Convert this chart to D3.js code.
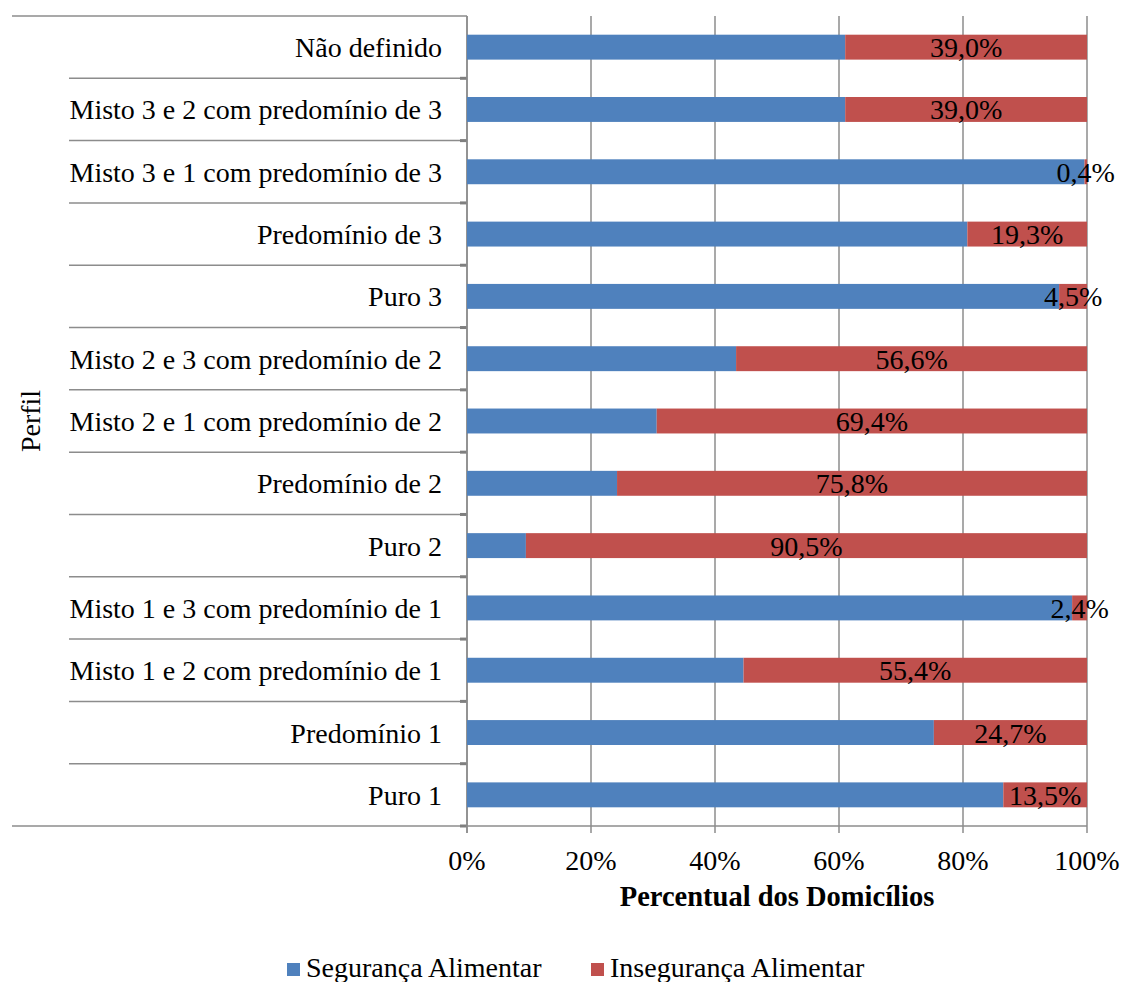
<!DOCTYPE html>
<html>
<head>
<meta charset="utf-8">
<script src="https://cdn.jsdelivr.net/npm/d3@7"></script>
<style>
  html, body { margin: 0; padding: 0; background: #fff; }
  svg { display: block; }
  text { font-family: "Liberation Serif", "DejaVu Serif", serif; fill: #000; }
</style>
</head>
<body>
<svg id="chart" width="1124" height="982"></svg>
<script>
// Profiles, top to bottom
const categories = [
  "Não definido",
  "Misto 3 e 2 com predomínio de 3",
  "Misto 3 e 1 com predomínio de 3",
  "Predomínio de 3",
  "Puro 3",
  "Misto 2 e 3 com predomínio de 2",
  "Misto 2 e 1 com predomínio de 2",
  "Predomínio de 2",
  "Puro 2",
  "Misto 1 e 3 com predomínio de 1",
  "Misto 1 e 2 com predomínio de 1",
  "Predomínio 1",
  "Puro 1"
];
// Share of households with food insecurity (%)
const inseguranca = [39.0, 39.0, 0.4, 19.3, 4.5, 56.6, 69.4, 75.8, 90.5, 2.4, 55.4, 24.7, 13.5];
// Share of households with food security (%)
const seguranca = [61.0, 61.0, 99.6, 80.7, 95.5, 43.4, 30.6, 24.2, 9.5, 97.6, 44.6, 75.3, 86.5];
const seriesNames = ["Segurança Alimentar", "Insegurança Alimentar"];
const tickValues = [0, 20, 40, 60, 80, 100];

const colors = ["#4F81BD", "#C0504D"];
const gridColor = "#8c8c8c";
const fontSize = "28px";

const svg = d3.select("#chart");
const plot = { left: 467, right: 1087, top: 16, bottom: 826 };

const x = d3.scaleLinear().domain([0, 100]).range([plot.left, plot.right]);
const y = d3.scaleBand().domain(categories).range([plot.top, plot.bottom])
  .paddingInner(0.6).paddingOuter(0.3);

const rows = categories.map((c, i) => ({ cat: c, seg: seguranca[i], ins: inseguranca[i] }));

// vertical gridlines with small ticks below the axis
svg.append("g").selectAll("line").data(tickValues).join("line")
  .attr("x1", d => x(d)).attr("x2", d => x(d))
  .attr("y1", plot.top).attr("y2", plot.bottom + 7)
  .attr("stroke", gridColor).attr("stroke-width", 1.5);

// category separators on the left
const step = y.step();
const seps = d3.range(categories.length + 1).map(i => plot.top + i * step);
svg.append("g").selectAll("line").data(seps).join("line")
  .attr("x1", (d, i) => (i === 0 || i === categories.length) ? 12 : 69)
  .attr("x2", (d, i) => i === categories.length ? plot.right : plot.left)
  .attr("y1", d => d).attr("y2", d => d)
  .attr("stroke", gridColor).attr("stroke-width", 1.5);
svg.append("g").selectAll("line").data(seps.slice(1)).join("line")
  .attr("x1", plot.left - 7).attr("x2", plot.left)
  .attr("y1", d => d).attr("y2", d => d)
  .attr("stroke", "#7f7f7f").attr("stroke-width", 3);

// vertical axis line
svg.append("line")
  .attr("x1", plot.left).attr("x2", plot.left)
  .attr("y1", plot.top).attr("y2", plot.bottom + 7)
  .attr("stroke", gridColor).attr("stroke-width", 1.5);

// stacked bars
const bars = svg.append("g");
bars.selectAll("rect.seg").data(rows).join("rect")
  .attr("class", "seg")
  .attr("x", x(0)).attr("y", d => y(d.cat))
  .attr("width", d => x(d.seg) - x(0)).attr("height", y.bandwidth())
  .attr("fill", colors[0]);
bars.selectAll("rect.ins").data(rows).join("rect")
  .attr("class", "ins")
  .attr("x", d => x(d.seg)).attr("y", d => y(d.cat))
  .attr("width", d => x(d.seg + d.ins) - x(d.seg)).attr("height", y.bandwidth())
  .attr("fill", colors[1]);

// value labels on the insecurity segment
const fmt = v => v.toFixed(1).replace(".", ",") + "%";
svg.append("g").selectAll("text").data(rows).join("text")
  .attr("x", d => (x(d.seg) + x(d.seg + d.ins)) / 2)
  .attr("y", d => y(d.cat) + y.bandwidth() / 2 + 10)
  .attr("text-anchor", "middle")
  .style("font-size", fontSize)
  .text(d => fmt(d.ins));

// category labels
svg.append("g").selectAll("text").data(categories).join("text")
  .attr("x", 442)
  .attr("y", d => y(d) + y.bandwidth() / 2 + 10)
  .attr("text-anchor", "end")
  .style("font-size", fontSize)
  .text(d => d);

// x tick labels
svg.append("g").selectAll("text").data(tickValues).join("text")
  .attr("x", d => x(d)).attr("y", 870)
  .attr("text-anchor", "middle")
  .style("font-size", fontSize)
  .text(d => d + "%");

// axis titles
svg.append("text")
  .attr("x", (plot.left + plot.right) / 2).attr("y", 906)
  .attr("text-anchor", "middle")
  .style("font-size", "28.5px").style("font-weight", "bold")
  .text("Percentual dos Domicílios");

svg.append("text")
  .attr("transform", `translate(40,${(plot.top + plot.bottom) / 2}) rotate(-90)`)
  .attr("text-anchor", "middle")
  .style("font-size", fontSize)
  .text("Perfil");

// legend
const legendItems = [
  { name: seriesNames[0], color: colors[0], x: 287 },
  { name: seriesNames[1], color: colors[1], x: 591 }
];
const lg = svg.append("g").selectAll("g").data(legendItems).join("g");
lg.append("rect")
  .attr("x", d => d.x).attr("y", 963).attr("width", 13).attr("height", 13)
  .attr("fill", d => d.color);
lg.append("text")
  .attr("x", d => d.x + 19).attr("y", 977)
  .style("font-size", fontSize)
  .text(d => d.name);
</script>
</body>
</html>
